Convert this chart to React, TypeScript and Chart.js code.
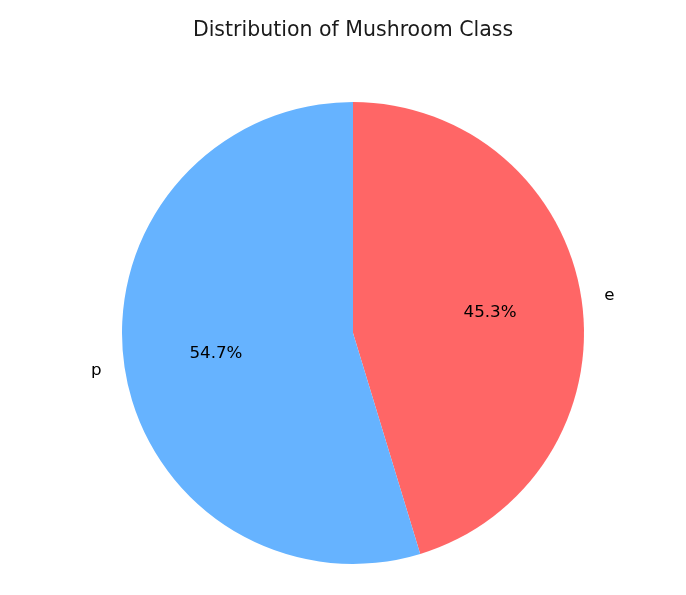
import React, { useEffect, useRef } from 'react';
import { Chart, ArcElement, DoughnutController, PieController, Plugin } from 'chart.js';

Chart.register(ArcElement, DoughnutController, PieController);

// class shares (percent)
const classLabels = ['e', 'p'];
const classShares = [45.3, 54.7];
const classColors = ['#ff6666', '#66b3ff'];

const chartTitle = 'Distribution of Mushroom Class';
const FONT = '"DejaVu Sans", sans-serif';

// draws matplotlib-style labels: names at 1.1 r, percentages at 0.6 r
const pieLabels: Plugin<'pie'> = {
  id: 'pieLabels',
  afterDraw(chart) {
    const ctx = chart.ctx;
    const meta = chart.getDatasetMeta(0);
    const values = chart.data.datasets[0].data as number[];
    const total = values.reduce((a, b) => a + b, 0);

    ctx.save();
    ctx.fillStyle = '#000';
    ctx.textBaseline = 'middle';
    ctx.font = `16.7px ${FONT}`;

    meta.data.forEach((el: any, i) => {
      const { x, y, startAngle, endAngle, outerRadius } = el.getProps(
        ['x', 'y', 'startAngle', 'endAngle', 'outerRadius'],
        true
      );
      const mid = (startAngle + endAngle) / 2;
      const cos = Math.cos(mid);
      const sin = Math.sin(mid);

      // percentage
      ctx.textAlign = 'center';
      const pct = ((values[i] / total) * 100).toFixed(1) + '%';
      ctx.fillText(pct, x + cos * outerRadius * 0.6, y + sin * outerRadius * 0.6);

      // category name
      const lx = x + cos * outerRadius * 1.1;
      const ly = y + sin * outerRadius * 1.1;
      ctx.textAlign = lx > x ? 'left' : 'right';
      ctx.fillText(String(chart.data.labels![i]), lx, ly);
    });

    // title
    ctx.textAlign = 'center';
    ctx.textBaseline = 'alphabetic';
    ctx.font = `20.5px ${FONT}`;
    ctx.fillStyle = '#1a1a1a';
    ctx.fillText(chartTitle, 353, 36);
    ctx.restore();
  },
};

const MushroomPie: React.FC = () => {
  const canvasRef = useRef<HTMLCanvasElement>(null);

  useEffect(() => {
    document.body.style.margin = '0';
    const chart = new Chart(canvasRef.current!, {
      type: 'pie',
      data: {
        labels: classLabels,
        datasets: [
          {
            data: classShares,
            backgroundColor: classColors,
            borderWidth: 0,
          },
        ],
      },
      options: {
        animation: false,
        responsive: false,
        rotation: 0,
        layout: { padding: { left: 122, right: 102, top: 102, bottom: 31 } },
        plugins: {
          legend: { display: false },
          tooltip: { enabled: false },
        },
      },
      plugins: [pieLabels],
    });

    return () => {
      chart.destroy();
    };
  }, []);

  return (
    <div style={{ width: 686, height: 595, background: '#fff' }}>
      <canvas ref={canvasRef} width={686} height={595} />
    </div>
  );
};

export default function App() {
  return <MushroomPie />;
}
